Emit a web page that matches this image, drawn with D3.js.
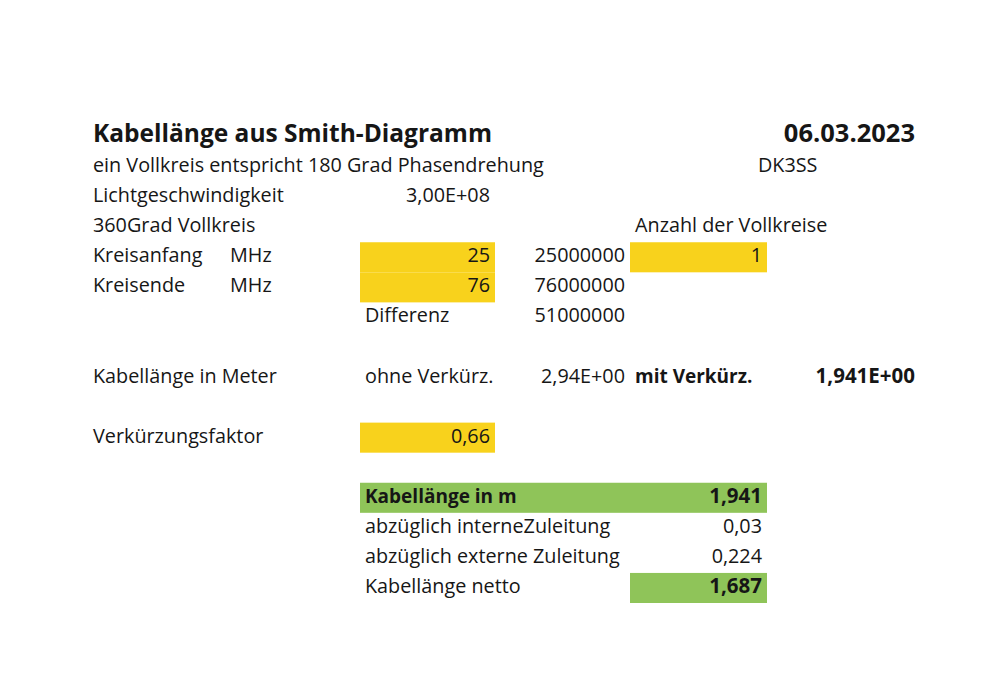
<!DOCTYPE html>
<html>
<head>
<meta charset="utf-8">
<script src="https://cdn.jsdelivr.net/npm/d3@7"></script>
<style>
  body { margin: 0; background: #fff; }
  text { font-family: "Open Sans", Lato, sans-serif; fill: #161616; }
</style>
</head>
<body>
<div id="sheet"></div>
<script>
// define svg area dimensions
var svgWidth = 991;
var svgHeight = 676;

// sheet columns and rows
var columns = ["A", "B", "C", "D", "E", "F"];
var rows = d3.range(0, 16);

// ---------------- cell contents: [row, column, text] ----------------
var titleCells = [[0, "A", "Kabellänge aus Smith-Diagramm"]];
var dateCells = [[0, "F", "06.03.2023"]];

var labelCells = [
    [1, "A", "ein Vollkreis entspricht 180 Grad Phasendrehung"],
    [1, "F", "DK3SS"],
    [2, "A", "Lichtgeschwindigkeit"],
    [3, "A", "360Grad Vollkreis"],
    [3, "E", "Anzahl der Vollkreise"],
    [4, "A", "Kreisanfang"],
    [4, "B", "MHz"],
    [5, "A", "Kreisende"],
    [5, "B", "MHz"],
    [6, "C", "Differenz"],
    [8, "A", "Kabellänge in Meter"],
    [8, "C", "ohne Verkürz."],
    [10, "A", "Verkürzungsfaktor"],
    [13, "C", "abzüglich interneZuleitung"],
    [14, "C", "abzüglich externe Zuleitung"],
    [15, "C", "Kabellänge netto"]
];

var numberCells = [
    [2, "C", "3,00E+08"],
    [4, "C", "25"],
    [4, "D", "25000000"],
    [4, "E", "1"],
    [5, "C", "76"],
    [5, "D", "76000000"],
    [6, "D", "51000000"],
    [8, "D", "2,94E+00"],
    [10, "C", "0,66"],
    [13, "E", "0,03"],
    [14, "E", "0,224"]
];

var boldLabelCells = [
    [8, "E", "mit Verkürz."],
    [12, "C", "Kabellänge in m"]
];

var boldNumberCells = [
    [8, "F", "1,941E+00"],
    [12, "E", "1,941"],
    [15, "E", "1,687"]
];

// highlighted ranges: [row, first column, last column]
var inputCells = [[4, "C", "C"], [5, "C", "C"], [4, "E", "E"], [10, "C", "C"]];
var resultCells = [[12, "C", "E"], [15, "E", "E"]];

// ---------------- layout ----------------
var colLeft = d3.scaleOrdinal().domain(columns).range([88, 225, 360, 495, 630, 767]);
var colRight = d3.scaleOrdinal().domain(columns).range([225, 360, 495, 630, 767, 920]);
var rowScale = d3.scaleBand().domain(rows).range([122, 603]);
var padX = 5;
var baseline = 20;

var svg = d3.select("#sheet")
    .append("svg")
    .attr("width", svgWidth)
    .attr("height", svgHeight);

// highlight fills
function drawFills(cells, color) {
    svg.append("g").selectAll("rect")
        .data(cells)
        .enter()
        .append("rect")
        .attr("x", d => colLeft(d[1]))
        .attr("y", d => rowScale(d[0]))
        .attr("width", d => colRight(d[2]) - colLeft(d[1]))
        .attr("height", rowScale.bandwidth())
        .attr("fill", color);
}
drawFills(inputCells, "#f8d21c");
drawFills(resultCells, "#8fc459");

// text cells
function drawText(cells, align, size, weight) {
    svg.append("g").selectAll("text")
        .data(cells)
        .enter()
        .append("text")
        .attr("x", d => align === "end" ? colRight(d[1]) - padX : colLeft(d[1]) + padX)
        .attr("y", d => rowScale(d[0]) + baseline)
        .attr("text-anchor", align)
        .attr("font-size", size)
        .attr("font-weight", weight)
        .text(d => d[2]);
}
drawText(titleCells, "start", 24.5, "bold");
drawText(dateCells, "end", 25.5, "bold");
drawText(labelCells, "start", 19.8, "normal");
drawText(numberCells, "end", 19.8, "normal");
drawText(boldLabelCells, "start", 19, "bold");
drawText(boldNumberCells, "end", 20.5, "bold");

// DK3SS sits a bit left of column F
svg.selectAll("text").filter(function() { return d3.select(this).text() === "DK3SS"; })
    .attr("x", 758);
</script>
</body>
</html>
